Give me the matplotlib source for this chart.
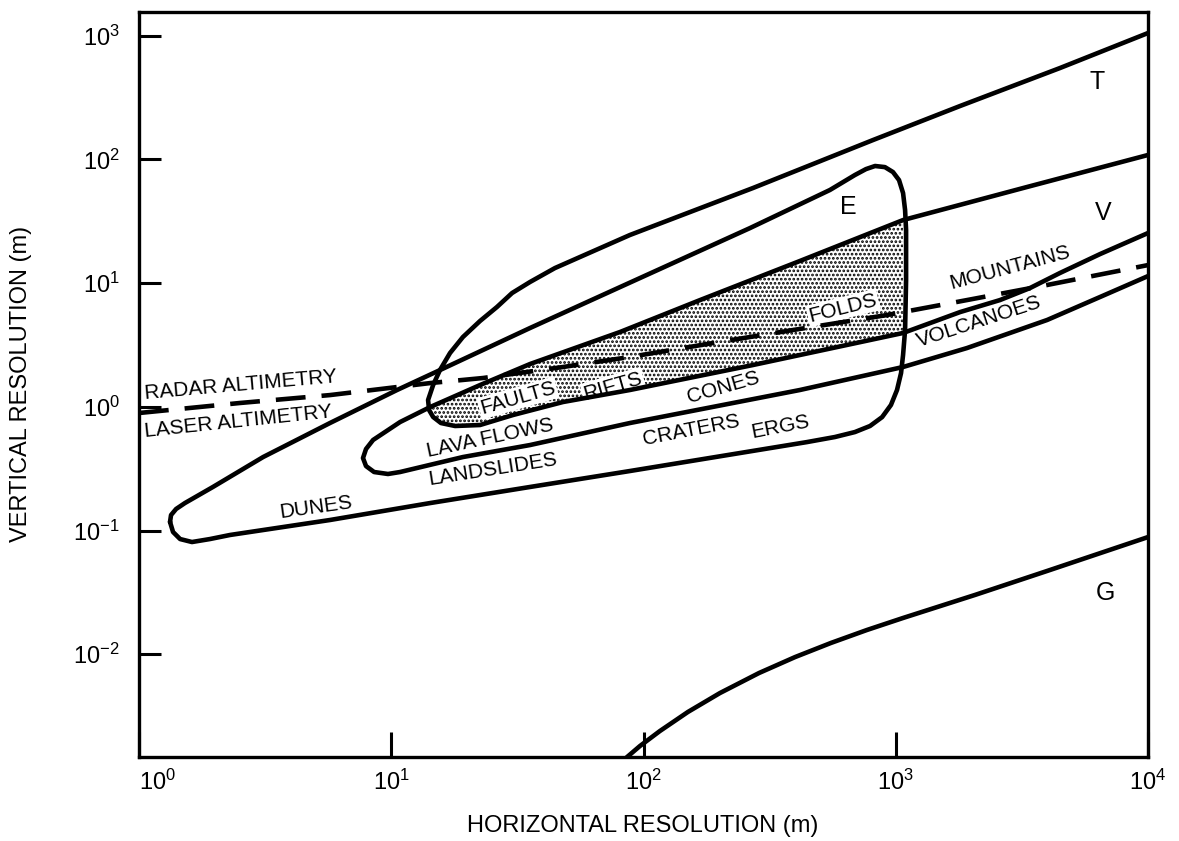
import numpy as np
import matplotlib
matplotlib.use('Agg')
import matplotlib.pyplot as plt

plt.rcParams['font.family'] = ['Liberation Sans', 'DejaVu Sans']
plt.rcParams['mathtext.default'] = 'regular'
plt.rcParams['hatch.linewidth'] = 1.3

# all curves, stored as log10 of the resolution in metres
# T : top band, runs down round the left end of E and back out under MOUNTAINS
t_lx = [4.000, 3.651, 3.255, 2.910, 2.434, 1.946, 1.748, 1.649, 1.550, 1.479, 1.419, 1.352, 1.284,
        1.233, 1.193, 1.166, 1.146, 1.150, 1.166, 1.197, 1.253, 1.352, 1.483, 1.681, 1.946, 2.434,
        3.029, 3.255, 3.413, 3.532, 3.651, 3.810, 4.000]
t_ly = [3.022, 2.739, 2.432, 2.157, 1.769, 1.389, 1.211, 1.122, 1.009, 0.920, 0.807, 0.694, 0.564,
        0.435, 0.297, 0.176, 0.055, -0.026, -0.082, -0.131, -0.155, -0.147, -0.066, 0.039, 0.136,
        0.338, 0.597, 0.766, 0.863, 0.960, 1.082, 1.235, 1.405]

# V : teardrop with its tip near 8 m
v_lx = [4.000, 3.520, 3.029, 2.620, 2.224, 1.907, 1.550, 1.352, 1.154, 1.035, 0.928, 0.900, 0.888,
        0.900, 0.932, 0.987, 1.035, 1.284, 1.550, 1.946, 2.620, 3.029, 3.282, 3.600, 3.810, 4.000]
v_ly = [2.036, 1.777, 1.510, 1.179, 0.863, 0.605, 0.346, 0.176, -0.002, -0.123, -0.268, -0.341, -0.414,
        -0.479, -0.527, -0.543, -0.527, -0.406, -0.309, -0.131, 0.136, 0.322, 0.475, 0.702, 0.888, 1.057]

# dunes teardrop that closes round E
d_lx = [0.123, 0.135, 0.163, 0.210, 0.281, 0.361, 0.757, 1.154, 1.550, 1.946, 2.648, 2.759, 2.838,
        2.898, 2.946, 2.981, 3.005, 3.021, 3.029, 3.037, 3.041, 3.041, 3.037, 3.029, 3.013, 2.989,
        2.957, 2.918, 2.882, 2.838, 2.739, 2.422, 1.907, 1.550, 1.193, 1.023, 0.757, 0.492, 0.293,
        0.182, 0.147, 0.127, 0.123]
d_ly = [-0.931, -1.012, -1.069, -1.093, -1.069, -1.036, -0.915, -0.778, -0.648, -0.519, -0.285, -0.244,
        -0.204, -0.155, -0.083, 0.015, 0.136, 0.273, 0.419, 0.621, 1.025, 1.429, 1.591, 1.728, 1.833,
        1.898, 1.938, 1.947, 1.922, 1.874, 1.753, 1.445, 0.968, 0.637, 0.297, 0.136, -0.131, -0.406,
        -0.648, -0.778, -0.826, -0.875, -0.931]

# radar / laser altimetry limit
alt_lx = [0.000, 0.400, 0.757, 1.154, 1.364, 1.681, 1.946, 2.276, 2.593, 2.965, 3.282, 3.600, 4.000]
alt_ly = [-0.050, 0.031, 0.095, 0.192, 0.233, 0.322, 0.403, 0.516, 0.621, 0.742, 0.863, 0.985, 1.146]

# G
g_lx = [1.907, 1.935, 1.986, 2.065, 2.176, 2.303, 2.458, 2.601, 2.743, 2.886, 3.029, 3.314, 3.600, 4.000]
g_ly = [-2.896, -2.831, -2.742, -2.621, -2.467, -2.314, -2.152, -2.023, -1.909, -1.804, -1.707, -1.521,
        -1.327, -1.053]

letters = ['T', 'V', 'E', 'G']
letter_pos = [(3.798, 2.626), (3.822, 1.567), (2.811, 1.615), (3.830, -1.505)]

names = ['RADAR ALTIMETRY', 'LASER ALTIMETRY', 'DUNES', 'LANDSLIDES', 'LAVA FLOWS', 'FAULTS',
         'RIFTS', 'CONES', 'CRATERS', 'ERGS', 'FOLDS', 'MOUNTAINS', 'VOLCANOES']
name_pos = [(0.404, 0.176), (0.392, -0.123), (0.702, -0.810), (1.403, -0.503), (1.391, -0.252),
            (1.502, 0.071), (1.879, 0.168), (2.315, 0.160), (2.188, -0.188), (2.541, -0.163),
            (2.791, 0.799), (3.453, 1.122), (3.330, 0.686)]
name_rot = [5, 6, 8, 9, 12, 16, 16, 16, 11, 11, 14, 15, 18]
on_dots = ['FAULTS', 'RIFTS', 'FOLDS']

xticks = [0, 1, 2, 3, 4]
yticks = [-2, -1, 0, 1, 2, 3]


def pts(lx, ly):
    return 10 ** np.array(lx), 10 ** np.array(ly)


fig = plt.figure(figsize=(11.79, 8.41), dpi=100)
ax = fig.add_axes([139 / 1179, 84 / 841, 1009 / 1179, 745 / 841])
ax.set_xscale('log')
ax.set_yscale('log')
ax.set_xlim(1, 1e4)
ax.set_ylim(10 ** -2.831, 10 ** 3.192)

# stippled part: inside V, above the lower edge of T, left of the right side of E
t = np.array(t_lx)
v = np.array(v_lx)
tsel = (np.arange(len(t)) > np.argmin(t)) & (t <= 3.03)
vsel = (np.arange(len(v)) < np.argmin(v)) & (v <= 3.03) & (v >= 1.15)
sx = np.concatenate([t[tsel], v[vsel]])
sy = np.concatenate([np.array(t_ly)[tsel], np.array(v_ly)[vsel]])
ax.fill(*pts(sx, sy), facecolor='white', edgecolor='black', hatch='....', linewidth=0, zorder=1)

kw = dict(color='black', lw=3.3, solid_joinstyle='round', solid_capstyle='round', zorder=3)
ax.plot(*pts(t_lx, t_ly), **kw)
ax.plot(*pts(v_lx, v_ly), **kw)
ax.plot(*pts(d_lx, d_ly), **kw)
ax.plot(*pts(g_lx, g_ly), **kw)
ax.plot(*pts(alt_lx, alt_ly), color='black', lw=3.3, ls=(0, (6.5, 3.5)), zorder=2)

for s, (lx, ly) in zip(letters, letter_pos):
    ax.text(10 ** lx, 10 ** ly, s, fontsize=18, ha='center', va='center')

for s, (lx, ly), r in zip(names, name_pos, name_rot):
    box = dict(facecolor='white', edgecolor='none', pad=1) if s in on_dots else None
    ax.text(10 ** lx, 10 ** ly, s, fontsize=15, ha='center', va='center',
            rotation=r, rotation_mode='anchor', bbox=box, zorder=1.5)

ax.set_xticks([10.0 ** e for e in xticks])
ax.set_xticklabels([r'$10^{%d}$' % e for e in xticks])
ax.set_yticks([10.0 ** e for e in yticks])
ax.set_yticklabels([r'$10^{%d}$' % e for e in yticks])
ax.get_xticklabels()[0].set_horizontalalignment('left')
ax.minorticks_off()
ax.tick_params(axis='x', direction='in', length=18, width=2.2, pad=9, labelsize=17)
ax.tick_params(axis='y', direction='in', length=16, width=2.2, pad=14, labelsize=17)
for sp in ax.spines.values():
    sp.set_linewidth(2.4)

fig.text(21 / 1179, 1 - 384 / 841, 'VERTICAL RESOLUTION (m)', rotation=90,
         ha='center', va='center', fontsize=17)
fig.text(643 / 1179, 1 - 826 / 841, 'HORIZONTAL RESOLUTION (m)',
         ha='center', va='center', fontsize=17)

fig.savefig('out.png', dpi=100, facecolor='white')
